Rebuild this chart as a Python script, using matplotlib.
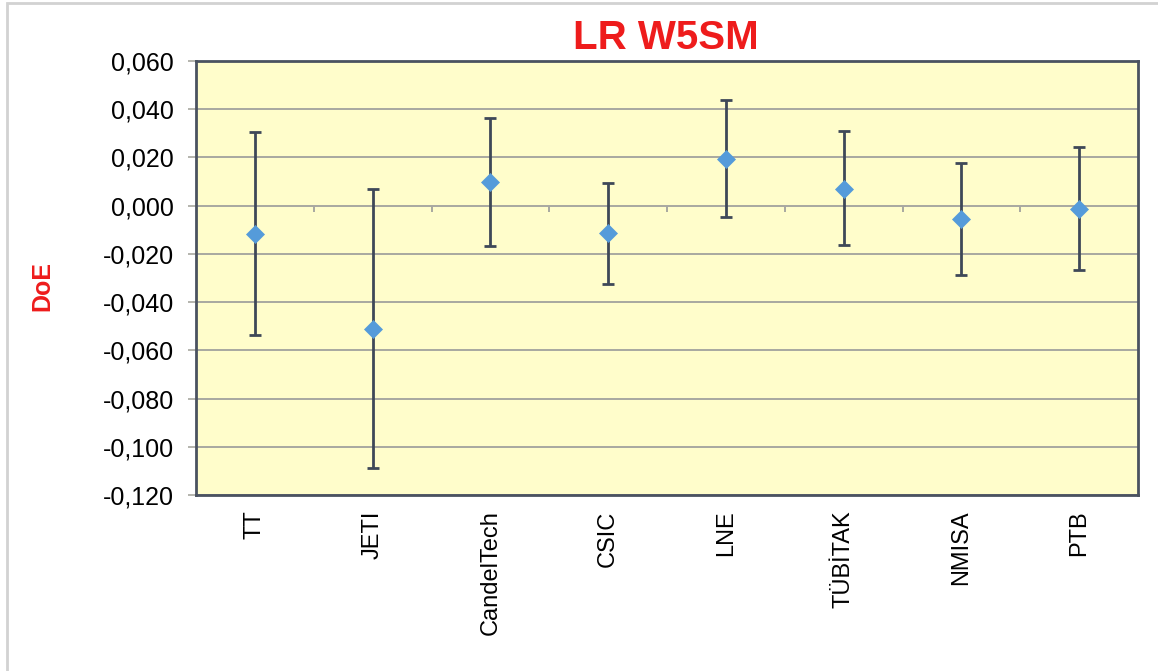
"""LR W5SM -- degree of equivalence per participant, with expanded uncertainty."""
import matplotlib
matplotlib.use("Agg")
import matplotlib.pyplot as plt
from matplotlib.patches import Rectangle
from matplotlib.ticker import FuncFormatter, MultipleLocator

plt.rcParams["font.family"] = ["Liberation Sans", "DejaVu Sans"]

# ---------------------------------------------------------------------------
# data
# ---------------------------------------------------------------------------
labs = ["TT", "JETI", "CandelTech", "CSIC", "LNE", "TÜBİTAK", "NMISA", "PTB"]
doe = [-0.0118, -0.0511, 0.0097, -0.0115, 0.0195, 0.0070, -0.0055, -0.0014]
u_plus = [0.0422, 0.0579, 0.0267, 0.0211, 0.0242, 0.0238, 0.0230, 0.0257]
u_minus = [0.0418, 0.0579, 0.0264, 0.0208, 0.0242, 0.0232, 0.0232, 0.0254]

y_ticks = [0.06, 0.04, 0.02, 0.0, -0.02, -0.04, -0.06, -0.08, -0.10, -0.12]

BG = "#FFFDCB"
GRID = "#A8A8A0"
FRAME = "#4A5260"
BAR = "#3E4858"
MARK = "#559BDA"
RED = "#EE1C1C"

W, H = 1158, 671
fig = plt.figure(figsize=(W / 100, H / 100), dpi=100)
ax = fig.add_axes([196 / W, 1 - 495 / H, (1138 - 196) / W, (495 - 61) / H])
ax.set_facecolor(BG)

x = list(range(len(labs)))
_, caps, _ = ax.errorbar(x, doe, yerr=[u_minus, u_plus], fmt="none",
                         ecolor=BAR, elinewidth=2.0, capsize=4, capthick=2.0,
                         zorder=3)
ax.plot(x, doe, "D", color=MARK, markersize=9, markeredgecolor=MARK,
        markeredgewidth=0.5, linestyle="none", zorder=4)

ax.set_xlim(-0.5, len(labs) - 0.5)
ax.set_ylim(min(y_ticks), max(y_ticks))
ax.yaxis.set_major_locator(MultipleLocator(0.02))
ax.yaxis.set_major_formatter(FuncFormatter(lambda v, _: f"{v:.3f}".replace(".", ",").replace("-0,000", "0,000")))
ax.grid(axis="y", color=GRID, linewidth=1.4, zorder=1)
ax.set_axisbelow(True)

# category separators hanging from the zero line
seps = [i + 0.5 for i in x[:-1]]
ax.vlines(seps, -0.0025, 0, color=GRID, linewidth=1.4, zorder=2)

ax.set_xticks(x)
ax.set_xticklabels(labs, rotation=90, va="top", ha="center")
ax.tick_params(axis="x", length=0, pad=11, labelsize=17)
ax.tick_params(axis="y", length=6, width=1.2, color=GRID, pad=10, labelsize=18)

for s in ax.spines.values():
    s.set_color(FRAME)
    s.set_linewidth(2.0)

fig.text(666 / W, 1 - 38 / H, "LR W5SM", color=RED, fontsize=29,
         fontweight="bold", ha="center", va="center")
fig.text(42 / W, 1 - 286 / H, "DoE", color=RED, fontsize=18,
         fontweight="bold", rotation=90, ha="center", va="center")

# light outer frame of the exported chart
fig.add_artist(Rectangle((7 / W, -0.05), 1.2, 1 - 3 / H + 0.05,
                         transform=fig.transFigure, fill=False,
                         edgecolor="#D2D2D2", linewidth=2.0))

fig.savefig("out.png", dpi=100)
